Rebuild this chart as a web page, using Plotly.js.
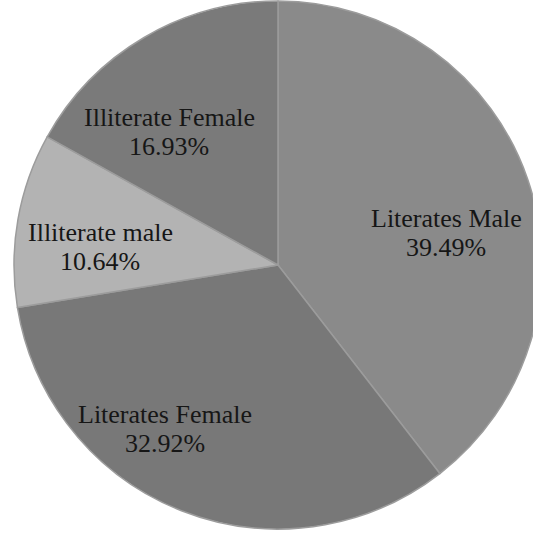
<!DOCTYPE html>
<html>
<head>
<meta charset="utf-8">
<script src="https://cdn.plot.ly/plotly-3.0.1.min.js"></script>
<style>
html, body { margin: 0; padding: 0; background: #ffffff; overflow: hidden; }
#chart { width: 542px; height: 535px; }
</style>
</head>
<body>
<div id="chart"></div>
<script>
const categories = ["Literates Male", "Literates Female", "Illiterate male", "Illiterate Female"];
const shares = [39.49, 32.92, 10.64, 16.93];
const sliceColors = ["#8a8a8a", "#787878", "#b3b3b3", "#7a7a7a"];

// label placement (pixel centre of the first text line), as in the reference
const labelPx = [[446, 218], [165, 414], [100, 232], [169, 117]];
const lineGap = 29.5;

const W = 542, H = 535;
const M = { l: 14, r: 0, t: 1, b: 6 };
const plotW = W - M.l - M.r, plotH = H - M.t - M.b;
const toPaperX = px => (px - M.l) / plotW;
const toPaperY = py => (H - M.b - py) / plotH;

const trace = {
  type: "pie",
  labels: categories,
  values: shares,
  sort: false,
  direction: "clockwise",
  rotation: 0,
  marker: { colors: sliceColors, line: { color: "#9c9c9c", width: 1.5 } },
  textinfo: "none",
  hoverinfo: "none",
  showlegend: false
};

const font = { family: "Liberation Serif, Times New Roman, serif", size: 26, color: "#161616" };
const annotations = [];
categories.forEach((c, i) => {
  const [px, py] = labelPx[i];
  annotations.push({ xref: "paper", yref: "paper", x: toPaperX(px), y: toPaperY(py),
    text: c, showarrow: false, font: font, xanchor: "center", yanchor: "middle" });
  annotations.push({ xref: "paper", yref: "paper", x: toPaperX(px), y: toPaperY(py + lineGap),
    text: shares[i].toFixed(2) + "%", showarrow: false, font: font, xanchor: "center", yanchor: "middle" });
});

const layout = {
  width: W,
  height: H,
  margin: { l: M.l, r: M.r, t: M.t, b: M.b, pad: 0 },
  paper_bgcolor: "#ffffff",
  plot_bgcolor: "#ffffff",
  showlegend: false,
  annotations: annotations
};

Plotly.newPlot("chart", [trace], layout, { displayModeBar: false, staticPlot: true });
</script>
</body>
</html>
